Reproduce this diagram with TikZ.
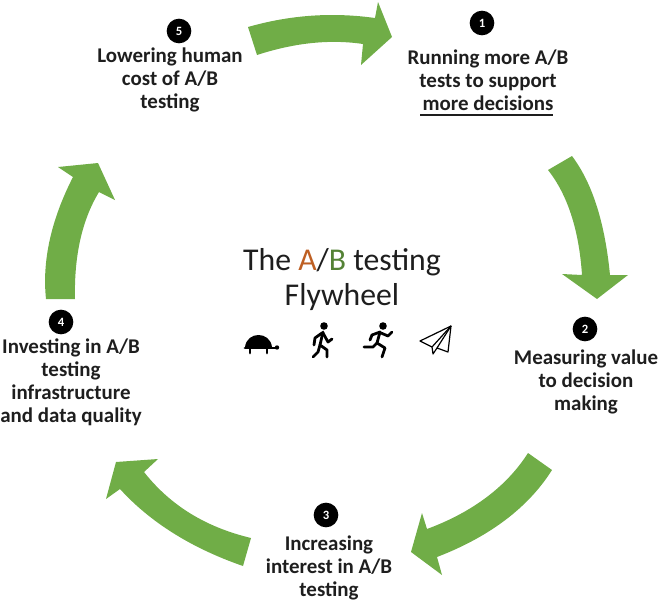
\documentclass[tikz,border=0pt]{standalone}
\usepackage{fontspec}
\setmainfont{Carlito}
\usepackage{xcolor}
\definecolor{flyGreen}{RGB}{112,173,71}
\definecolor{flyInk}{RGB}{30,30,30}
\definecolor{flyOrange}{RGB}{190,95,35}
\definecolor{flyLeaf}{RGB}{84,130,53}
\tikzset{
  flyArrow/.style={fill=flyGreen},
  flyBadge/.style={circle, fill=black, inner sep=0pt, minimum size=18.5pt,
    text=white, font=\fontsize{9.5}{9.5}\selectfont\bfseries},
  flyStep/.style={align=center, inner sep=0pt, text=flyInk,
    font=\fontsize{15.7}{17.3}\selectfont\bfseries},
  flyIcon/.style={draw=black, line width=2.1pt, line cap=round, line join=round},
}

\begin{document}
\begin{tikzpicture}[x=0.75pt, y=-0.75pt]
    \useasboundingbox (0,0) rectangle (668,614);

    % the five arrows
    \fill[flyArrow] (248,27) .. controls (290,15) and (332,12) .. (375,18) -- (378,2) -- (392,37)
      -- (361,65) -- (363,44) .. controls (329,39) and (294,43) .. (257,55) -- cycle;
    \fill[flyArrow] (572,156) .. controls (593,184) and (605,224) .. (610,275) -- (628,275) -- (597,299)
      -- (562,274) -- (582,275) .. controls (579,229) and (567,194) .. (548,170) -- cycle;
    \fill[flyArrow] (528,453) .. controls (507,486) and (473,512) .. (427,529) -- (422,513) -- (411,552)
      -- (442,575) -- (437,557) .. controls (489,537) and (528,508) .. (552,470) -- cycle;
    \fill[flyArrow] (251,538) .. controls (205,527) and (170,505) .. (144,472) -- (158,459) -- (116,462)
      -- (106,499) -- (120,489) .. controls (150,522) and (191,548) .. (243,566) -- cycle;
    \fill[flyArrow] (46,299) .. controls (42,261) and (51,220) .. (73,177) -- (58,167) -- (98,163)
      -- (115,200) -- (99,192) .. controls (82,220) and (74,256) .. (75,299) -- cycle;

    % steps
    \node[flyBadge] (badgeOne) at (482,23) {1};
    \node[flyStep] (stepOne) at (488,80) {Running more A/B\\tests to support\\more decisions};
    \draw[flyInk, line width=1pt] (420,115) -- (553,115);
    \node[flyBadge] (badgeTwo) at (585,329) {2};
    \node[flyStep] (stepTwo) at (586,382) {Measuring value\\to decision\\making};
    \node[flyBadge] (badgeThree) at (326,515) {3};
    \node[flyStep] (stepThree) at (329,568) {Increasing\\interest in A/B\\testing};
    \node[flyBadge] (badgeFour) at (61,322) {4};
    \node[flyStep] (stepFour) at (71,382) {Investing in A/B\\testing\\infrastructure\\and data quality};
    \node[flyBadge] (badgeFive) at (179,31) {5};
    \node[flyStep] (stepFive) at (170,80) {Lowering human\\cost of A/B\\testing};

    % centre
    \node[align=center, inner sep=0pt, text=flyInk, font=\fontsize{23.8}{26.2}\selectfont] (flyTitle) at (342,280)
      {The \textcolor{flyOrange}{A}/\textcolor{flyLeaf}{B} testing\\Flywheel};

    % turtle
    \fill (245,347) .. controls (247,331) and (270,331) .. (272,347) -- cycle;
    \draw[flyIcon] (245,348) -- (276,348);
    \fill (277,347.5) circle (2.2);
    \draw[flyIcon] (250,349) -- (250,353);
    \draw[flyIcon] (267,349) -- (267,353);

    % walker
    \fill (324,326) circle (3.8);
    \draw[flyIcon] (323,332) -- (320,345) -- (327,350) -- (327,357);
    \draw[flyIcon] (320,345) -- (318,352) -- (313,357);
    \draw[flyIcon] (323,333) -- (328,342) -- (332,339);
    \draw[flyIcon] (322,333) -- (315,338) -- (314,345);

    % runner
    \fill (383,326) circle (3.8);
    \draw[flyIcon] (380,332) -- (377,343) -- (385,348) -- (382,357);
    \draw[flyIcon] (377,343) -- (373,347) -- (364,347);
    \draw[flyIcon] (381,333) -- (388,336) -- (392,332);
    \draw[flyIcon] (380,332) -- (372,335) -- (370,340);

    % plane
    \draw[line width=0.9pt, line join=round] (451,326) -- (420,341) -- (432,347) -- (433,354)
      -- (437,348) -- (448,352) -- cycle;
    \draw[line width=0.9pt, line join=round] (451,326) -- (432,347);
    \draw[line width=0.9pt, line join=round] (451,326) -- (437,348);
  \end{tikzpicture}
\end{document}
